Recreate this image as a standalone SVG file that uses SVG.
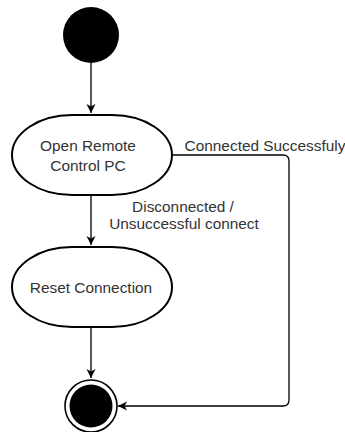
<svg xmlns="http://www.w3.org/2000/svg" width="345" height="432" viewBox="0 0 345 432">
<style>
.state{fill:#fff;stroke:#000;stroke-width:2}
.lbl{font-family:"Liberation Sans",Arial,sans-serif;font-size:15.4px;fill:#333;text-anchor:middle}
.edge{fill:none;stroke:#000;stroke-width:1.3}
</style>
<defs>
<marker id="arr" markerWidth="10" markerHeight="10" refX="9" refY="5" orient="auto" markerUnits="userSpaceOnUse">
<path d="M0,0.5 L9,5 L0,9.5 L2.5,5 Z" fill="#000"/>
</marker>
</defs>
<rect width="345" height="432" fill="#fff"/>
<g id="connectors">
<path class="edge" d="M91,63 V113" marker-end="url(#arr)"/>
<path class="edge" d="M91,195 V245" marker-end="url(#arr)"/>
<path class="edge" d="M91,327 V378" marker-end="url(#arr)"/>
<path class="edge" d="M172,155 H283 Q289,155 289,161 V400 Q289,406 283,406 H118" marker-end="url(#arr)"/>
<text class="lbl" x="265" y="151">Connected Successfuly</text>
<text class="lbl" x="183" y="212">Disconnected /</text>
<text class="lbl" x="184" y="229">Unsuccessful connect</text>
</g>
<g id="start">
<circle cx="91" cy="35" r="28" fill="#000"/>
</g>
<g id="open-remote">
<rect class="state" x="12" y="115" width="160" height="80" rx="60" ry="40"/>
<text class="lbl" x="88" y="151">Open Remote</text>
<text class="lbl" x="88" y="171">Control PC</text>
</g>
<g id="reset">
<rect class="state" x="12" y="247" width="160" height="80" rx="60" ry="40"/>
<text class="lbl" x="91" y="293">Reset Connection</text>
</g>
<g id="end">
<circle cx="91" cy="406" r="26" fill="#fff" stroke="#000" stroke-width="1.6"/>
<circle cx="91" cy="406" r="21.5" fill="#000"/>
</g>
</svg>
